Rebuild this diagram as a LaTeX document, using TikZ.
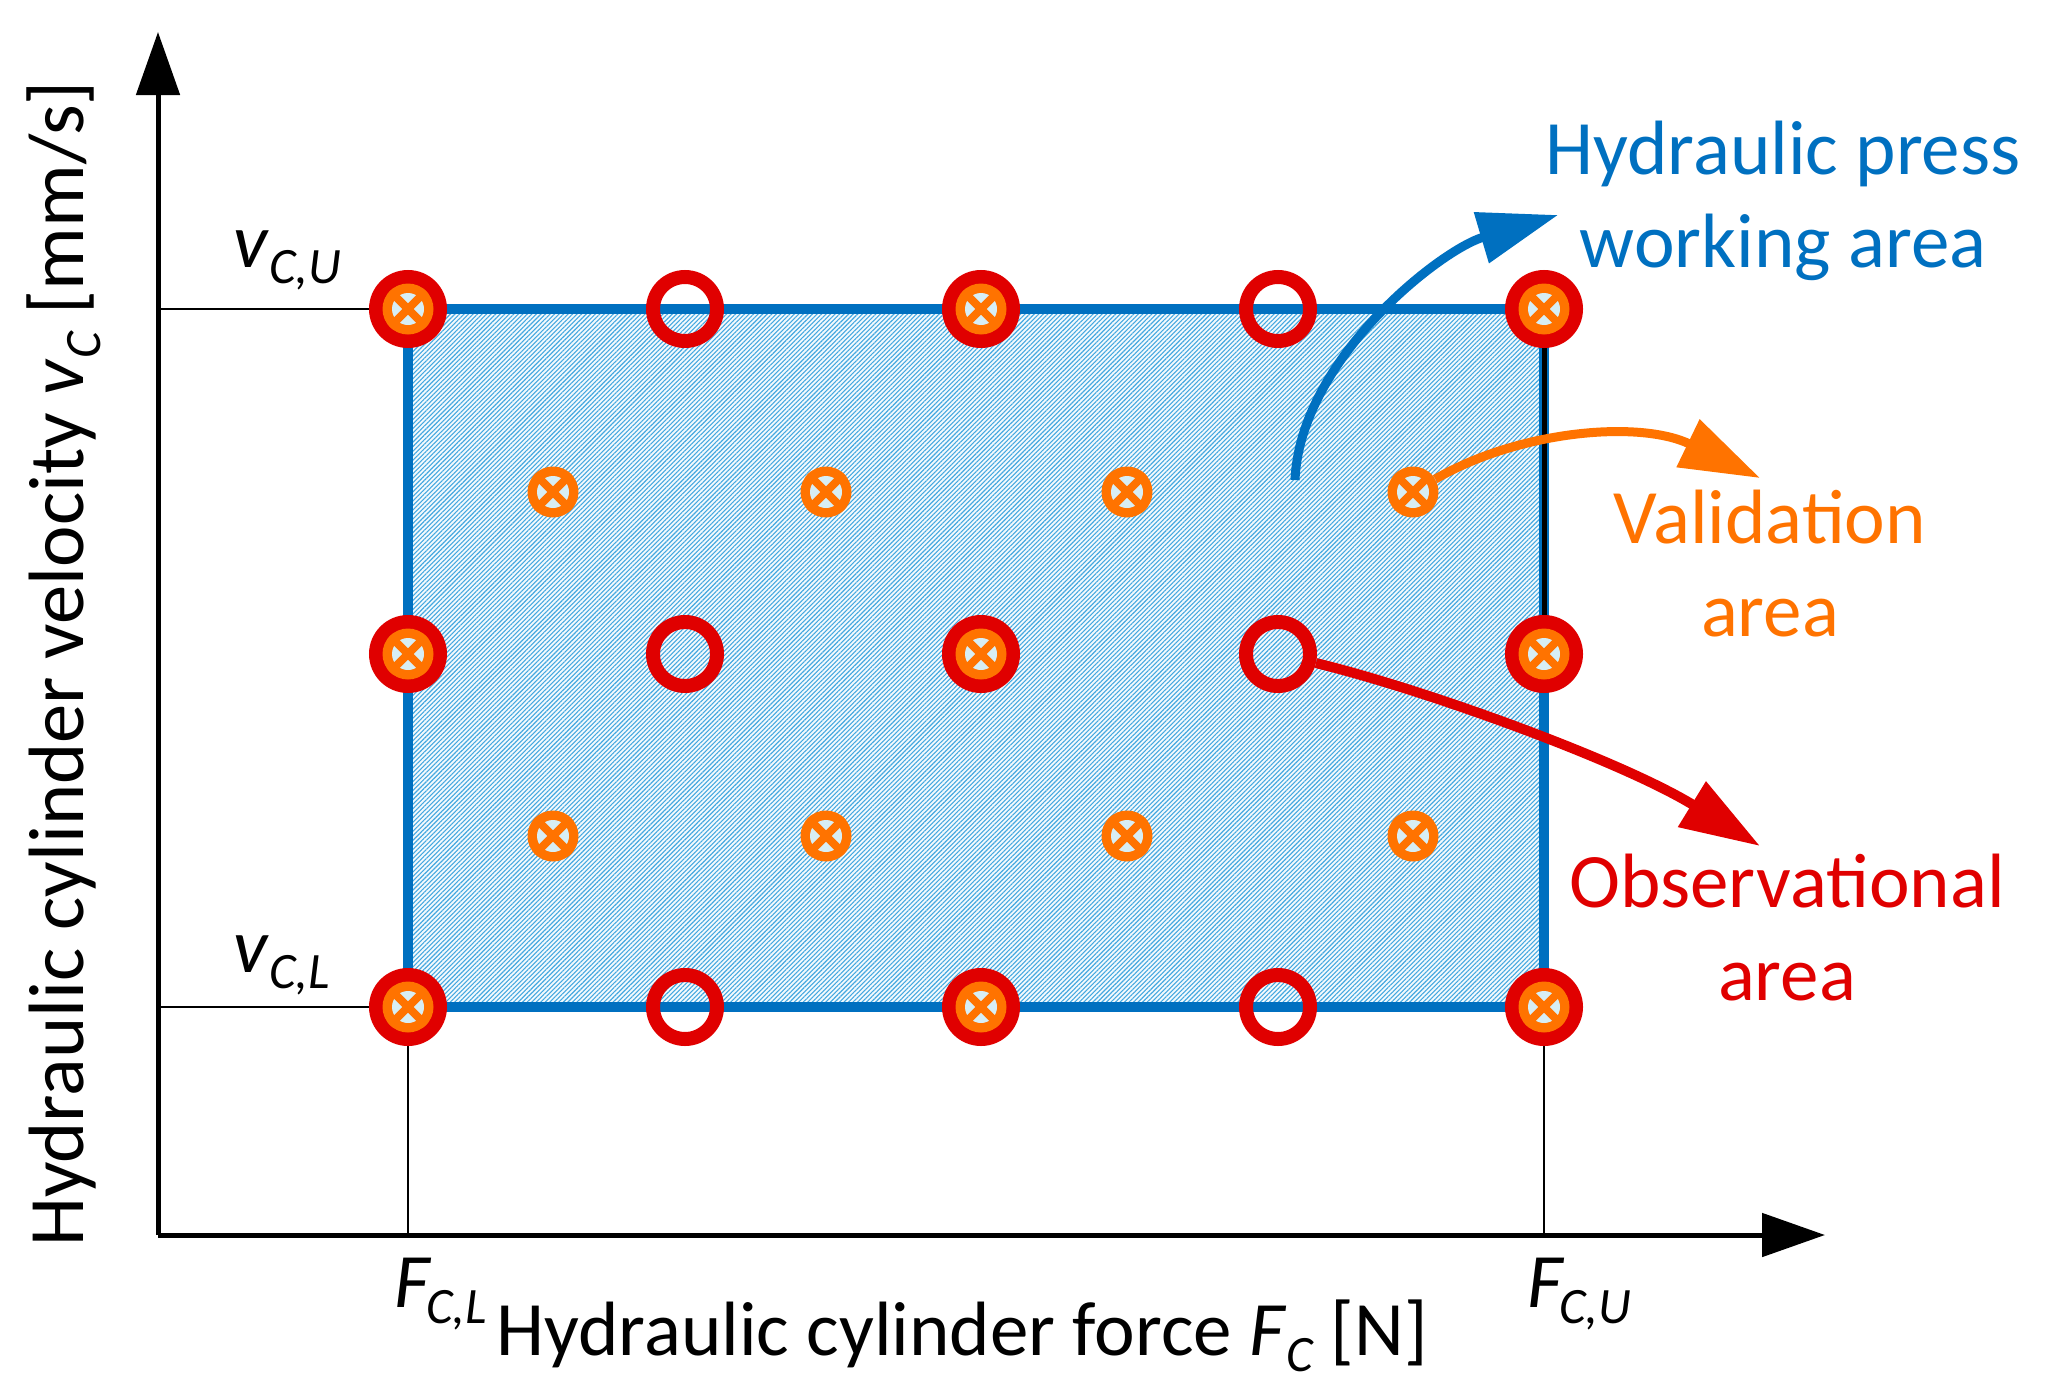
\documentclass[tikz,border=0pt]{standalone}
\usepackage{fontspec}
\setmainfont{Carlito}
\usepackage{xcolor}
\usetikzlibrary{arrows.meta, patterns.meta, positioning}

\definecolor{pressblue}{HTML}{0070C0}
\definecolor{obsred}{HTML}{E00000}
\definecolor{valorange}{HTML}{FF7300}
\definecolor{crossbg}{HTML}{D7EEF5}
\definecolor{hatchbg}{HTML}{F4FAFD}
\definecolor{hatchblue}{HTML}{45A8E0}

\newcommand{\lowidx}[1]{\raisebox{-0.22em}{\fontsize{51}{51}\selectfont\itshape #1}}

\tikzset{
  lbl/.style={font=\fontsize{77}{93}\selectfont, inner sep=0pt, align=center},
  obspt/.style={circle, draw=obsred, line width=14pt, minimum size=64pt, inner sep=0pt},
  valpt/.style={circle, fill=valorange, minimum size=51pt, inner sep=0pt,
    path picture={
      \fill[crossbg] (path picture bounding box.center) circle[radius=16pt];
      \draw[valorange, line width=8pt]
        (path picture bounding box.north west) -- (path picture bounding box.south east)
        (path picture bounding box.north east) -- (path picture bounding box.south west);
    }},
  thinline/.style={line width=1.5pt},
  axisline/.style={line width=5pt, -{Triangle[length=63pt, width=43pt]}},
  areaarrow/.style={line width=9pt, -{Triangle[length=80pt, width=51pt]}}
}

\begin{document}
\begin{tikzpicture}[x=1pt, y=-1pt]
  \useasboundingbox (0,0) rectangle (2059,1389);

  % working area
  \fill[hatchbg] (408,309) rectangle (1544,1007);
  \path[pattern={Lines[angle=45, distance=3.2pt, line width=1.1pt]}, pattern color=hatchblue]
    (408,309) rectangle (1544,1007);

  % limits
  \coordinate (origin) at (158,1235);
  \draw[thinline] (origin |- 0,309) -- (408,309);
  \draw[thinline] (origin |- 0,1007) -- (408,1007);
  \draw[thinline] (408,1007) -- (408,1235);
  \draw[thinline] (1544,1007) -- (1544,1235);

  % axes
  \draw[axisline] (origin) -- (158,32);
  \draw[axisline] (origin) -- (1825,1235);

  \draw[pressblue, line width=10pt] (408,309) rectangle (1544,1007);
  \draw[line width=5pt] (1544,309) -- (1544,654);

  % observational points
  \foreach \x/\n in {408/1, 685/2, 981/3, 1278/4, 1544/5}
    \foreach \y/\m in {309/1, 654/2, 1007/3}
      \node[obspt] (o\n\m) at (\x,\y) {};
  \foreach \x in {408, 981, 1544}
    \foreach \y in {309, 654, 1007}
      \node[valpt] at (\x,\y) {};

  % validation points
  \foreach \x/\n in {553/1, 826/2, 1127/3, 1413/4}
    \foreach \y/\m in {492/1, 836/2}
      \node[valpt] (s\n\m) at (\x,\y) {};

  % arrows
  \coordinate (wa-start) at (1295,480);
  \coordinate (wa-tip) at (1558,215);
  \coordinate (va-tip) at (1760,478);
  \coordinate (ob-tip) at (1760,846);
  \draw[areaarrow, pressblue] (wa-start) .. controls (1300,360) and (1440,250) .. (wa-tip);
  \draw[areaarrow, valorange] (s41) .. controls (1520,430) and (1640,420) .. (va-tip);
  \draw[areaarrow, obsred, line width=10pt] (o42) .. controls (1420,688) and (1620,760) .. (ob-tip);

  % labels
  \node[lbl, text=pressblue, anchor=base] (press) at (1783,267) {Hydraulic press\\working area};
  \node[lbl, text=valorange, anchor=base] (valid) at (1770,636) {Validation\\area};
  \node[lbl, text=obsred, anchor=base] (observ) at (1787,1000) {Observational\\area};

  \node[lbl, anchor=base west] (vcu) at (233,267) {\textit{v}\lowidx{C,U}};
  \node[lbl, anchor=base west] (vcl) at (233,972) {\textit{v}\lowidx{C,L}};
  \node[lbl, anchor=base west] (fcl) at (394,1307) {\textit{F}\kern-5pt\lowidx{C,L}};
  \node[lbl, anchor=base west] (fcu) at (1527,1307) {\textit{F}\kern-5pt\lowidx{C,U}};

  \node[lbl, anchor=base] (xlabel) at (962,1355) {Hydraulic cylinder force \textit{F}\lowidx{C} [N]};
  \node[lbl, font=\fontsize{78.5}{94}\selectfont, anchor=base, rotate=90] (ylabel) at (83,664)
    {Hydraulic cylinder velocity \textit{v}\lowidx{C} [mm/s]};
\end{tikzpicture}
\end{document}
